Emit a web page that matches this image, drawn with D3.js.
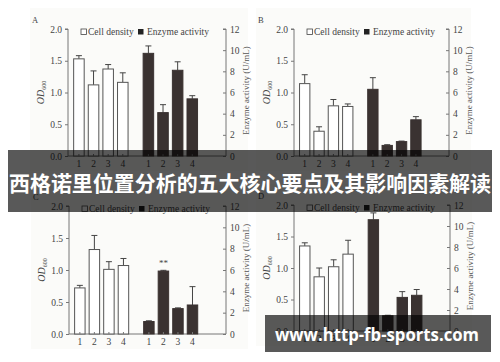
<!DOCTYPE html>
<html>
<head>
<meta charset="utf-8">
<script src="https://cdn.jsdelivr.net/npm/d3@7"></script>
<style>
body { margin: 0; background: #fff; }
svg { display: block; font-family: "Liberation Serif", "DejaVu Serif", serif; }
.axis path, .axis line { stroke: #777; }
</style>
</head>
<body>
<svg width="500" height="362"></svg>
<script>
// values
var panels = ["A", "B", "C", "D"];
var samples = ["1", "2", "3", "4"];
var groups = ["Cell density", "Enzyme activity"];
var odTicks = [0, 0.5, 1.0, 1.5, 2.0];
var enzTicks = [0, 2, 4, 6, 8, 10, 12];

var cellDensity = [
	[1.53, 1.12, 1.37, 1.16],
	[1.14, 0.39, 0.79, 0.78],
	[0.72, 1.32, 1.01, 1.07],
	[1.35, 0.86, 1.02, 1.22]
];
var cellDensityErr = [
	[0.05, 0.22, 0.07, 0.15],
	[0.14, 0.07, 0.10, 0.04],
	[0.04, 0.22, 0.12, 0.11],
	[0.05, 0.14, 0.11, 0.22]
];
var enzyme = [
	[9.7, 4.1, 8.1, 5.4],
	[6.3, 1.0, 1.36, 3.42],
	[1.17, 5.9, 2.38, 2.72],
	[10.6, 1.45, 3.2, 3.4]
];
var enzymeErr = [
	[0.7, 0.75, 0.8, 0.3],
	[1.1, 0.07, 0.05, 0.3],
	[0.07, 0.07, 0.07, 1.72],
	[0.65, 0.05, 0.55, 0.55]
];
var marks = [[], [], [{group: 1, sample: 1, text: "**"}], []];

var title = "西格诺里位置分析的五大核心要点及其影响因素解读";
var watermark = "www.http-fb-sports.com";

// where each panel sits (left axis x, right axis x, top y, baseline y)
var layout = [
	{left: 68, right: 226, top: 29, bottom: 156},
	{left: 294, right: 449, top: 29, bottom: 156},
	{left: 69, right: 226, top: 206, bottom: 334},
	{left: 294, right: 450, top: 205, bottom: 331}
];

var svg = d3.select("svg");

function drawPanel(p) {
	var L = layout[p];
	var g = svg.append("g").attr("class", "panel" + panels[p]);

	g.append("rect").attr("x", L.left - 38).attr("y", L.top - 21)
		.attr("width", L.right - L.left + 60).attr("height", L.bottom - L.top + 36)
		.attr("fill", "#fbfbf9");

	var yOD = d3.scaleLinear().domain([0, 2]).range([L.bottom, L.top]);
	var yEnz = d3.scaleLinear().domain([0, 12]).range([L.bottom, L.top]);
	var xGroup = d3.scaleBand().domain(groups).range([L.left, L.right])
		.paddingInner(0.158).paddingOuter(0.216).align(0.12);
	var xSample = d3.scaleBand().domain(samples).range([0, xGroup.bandwidth()])
		.paddingInner(0.28).paddingOuter(0.14);

	// axes
	g.append("g").attr("class", "axis").attr("transform", "translate(" + L.left + ",0)")
		.call(d3.axisLeft(yOD).tickValues(odTicks).tickFormat(d3.format(".1f")).tickSize(3).tickPadding(3))
		.call(function(a) { a.select(".domain").attr("d", "M-3," + L.top + "H0V" + L.bottom); });
	g.append("g").attr("class", "axis").attr("transform", "translate(" + L.right + ",0)")
		.call(d3.axisRight(yEnz).tickValues(enzTicks).tickSize(-3).tickPadding(4))
		.call(function(a) { a.select(".domain").attr("d", "M-3," + L.top + "H0V" + L.bottom); });
	g.selectAll(".axis").attr("font-family", null).attr("font-size", 9.5);
	g.selectAll(".axis text").attr("fill", "#444");

	g.append("line").attr("x1", L.left).attr("x2", L.right)
		.attr("y1", L.bottom).attr("y2", L.bottom).attr("stroke", "#777");

	var data = [
		{vals: cellDensity[p], errs: cellDensityErr[p], y: yOD, fill: "#fff", stroke: "#555"},
		{vals: enzyme[p], errs: enzymeErr[p], y: yEnz, fill: "#3a3231", stroke: "#3a3231"}
	];

	data.forEach(function(d, gi) {
		var gx = xGroup(groups[gi]);
		var bars = g.append("g");
		samples.forEach(function(s, i) {
			var x = gx + xSample(s);
			var w = xSample.bandwidth();
			var cx = x + w / 2;
			var top = d.y(d.vals[i]);
			var capY = d.y(d.vals[i] + d.errs[i]);
			bars.append("line").attr("x1", cx).attr("x2", cx).attr("y1", top).attr("y2", capY)
				.attr("stroke", "#444").attr("stroke-width", 1);
			bars.append("line").attr("x1", cx - 3).attr("x2", cx + 3).attr("y1", capY).attr("y2", capY)
				.attr("stroke", "#444").attr("stroke-width", 1);
			bars.append("rect").attr("x", x).attr("y", top)
				.attr("width", w).attr("height", L.bottom - top)
				.attr("fill", d.fill).attr("stroke", d.stroke).attr("stroke-width", 1);
			bars.append("line").attr("x1", cx).attr("x2", cx).attr("y1", L.bottom).attr("y2", L.bottom - 2)
				.attr("stroke", "#777");
			g.append("text").attr("x", cx).attr("y", L.bottom + 11).attr("text-anchor", "middle")
				.attr("font-size", 9.5).attr("fill", "#444").text(s);
		});
	});

	marks[p].forEach(function(m) {
		var d = data[m.group];
		var cx = xGroup(groups[m.group]) + xSample(samples[m.sample]) + xSample.bandwidth() / 2;
		g.append("text").attr("x", cx).attr("y", d.y(d.vals[m.sample] + d.errs[m.sample]) - 4)
			.attr("text-anchor", "middle").attr("font-size", 9).attr("fill", "#444").text(m.text);
	});

	// legend
	var lx = L.left + 13, ly = L.top + 3;
	g.append("rect").attr("x", lx).attr("y", ly - 3).attr("width", 5.5).attr("height", 5.5)
		.attr("fill", "#fff").attr("stroke", "#444").attr("stroke-width", 0.8);
	g.append("text").attr("x", lx + 7).attr("y", ly + 3).attr("font-size", 9.5).attr("fill", "#444").text(groups[0]);
	g.append("rect").attr("x", lx + 57).attr("y", ly - 3).attr("width", 5.5).attr("height", 5.5)
		.attr("fill", "#222");
	g.append("text").attr("x", lx + 66).attr("y", ly + 3).attr("font-size", 9.5).attr("fill", "#444").text(groups[1]);

	// axis titles
	var midY = (L.top + L.bottom) / 2;
	var od = g.append("text").attr("transform", "translate(" + (L.left - 24) + "," + midY + ") rotate(-90)")
		.attr("text-anchor", "middle").attr("font-size", 10).attr("fill", "#444");
	od.append("tspan").attr("font-style", "italic").text("OD");
	od.append("tspan").attr("font-size", 6).attr("dy", 2).text("600");
	g.append("text").attr("transform", "translate(" + (L.right + 23) + "," + (midY - 2) + ") rotate(-90)")
		.attr("text-anchor", "middle").attr("font-size", 9).attr("fill", "#555")
		.text("Enzyme activity (U/mL)");

	g.append("text").attr("x", L.left - 36).attr("y", L.top - 6).attr("font-size", 8.5)
		.attr("fill", "#444").text(panels[p]);
}

panels.forEach(function(name, p) { drawPanel(p); });

// title banner
svg.append("rect").attr("x", 8).attr("y", 150).attr("width", 484).attr("height", 62)
	.attr("fill", "#000").attr("opacity", 0.65);
svg.append("text").attr("x", 250).attr("y", 191).attr("text-anchor", "middle")
	.attr("font-family", "Noto Sans CJK SC").attr("font-weight", 700).attr("font-size", 21)
	.attr("textLength", 482).attr("lengthAdjust", "spacingAndGlyphs")
	.attr("fill", "#fff").text(title);

// watermark
svg.append("rect").attr("x", 265).attr("y", 315).attr("width", 226).attr("height", 37)
	.attr("fill", "#000").attr("opacity", 0.65);
svg.append("text").attr("x", 377).attr("y", 341).attr("text-anchor", "middle")
	.attr("font-family", "Open Sans").attr("font-weight", 700).attr("font-size", 17)
	.attr("textLength", 204).attr("lengthAdjust", "spacingAndGlyphs")
	.attr("fill", "#fff").text(watermark);
</script>
</body>
</html>
